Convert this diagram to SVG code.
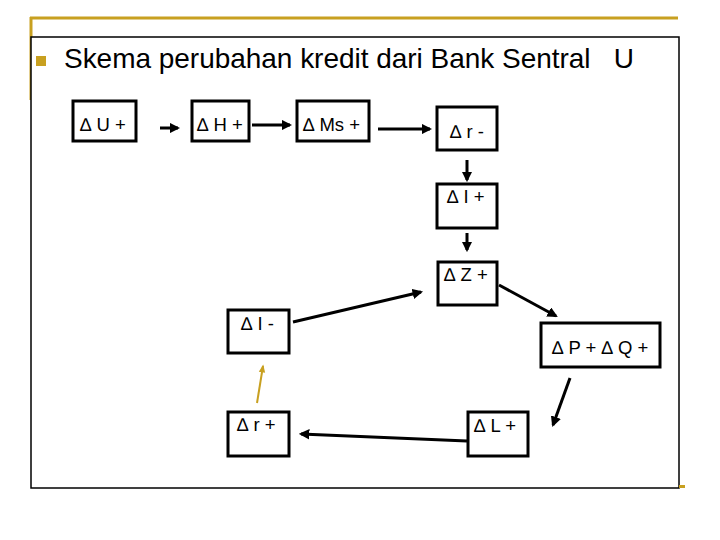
<svg xmlns="http://www.w3.org/2000/svg" width="720" height="540" viewBox="0 0 720 540">
<defs>
<style>
.box{fill:#fff;stroke:#000;stroke-width:3}
.t{font-family:"Liberation Sans",Arial,sans-serif;font-size:18.5px;fill:#000}
.c{stroke:#000;stroke-width:3;fill:none;marker-end:url(#ah)}
</style>
<marker id="ah" viewBox="0 0 10 10" refX="8" refY="5" markerWidth="3.5" markerHeight="3.5" orient="auto" markerUnits="strokeWidth">
<path d="M0,0 L10,5 L0,10 z" fill="#000"/>
</marker>
<marker id="ahg" viewBox="0 0 10 10" refX="8" refY="5" markerWidth="4" markerHeight="4" orient="auto" markerUnits="strokeWidth">
<path d="M0,1 L10,5 L0,9 z" fill="#c8a020"/>
</marker>
</defs>
<rect width="720" height="540" fill="#fff"/>
<g id="frame">
<line x1="30" y1="18" x2="678" y2="18" stroke="#c8a020" stroke-width="3"/>
<line x1="31" y1="17" x2="31" y2="100" stroke="#c8a020" stroke-width="3"/>
<rect x="31" y="37" width="648" height="451" fill="#fff" stroke="#000" stroke-width="1.5"/>
<rect x="679" y="485" width="6" height="3" fill="#c8a020"/>
<rect x="36" y="56" width="10" height="10" fill="#c8a020"/>
<text x="64" y="68" font-family="'Liberation Sans',Arial,sans-serif" font-size="28" fill="#000" xml:space="preserve" textLength="570" lengthAdjust="spacing">Skema perubahan kredit dari Bank Sentral   U</text>
</g>
<g id="connectors">
<line class="c" x1="160" y1="128" x2="178" y2="128"/>
<line class="c" x1="252" y1="125" x2="290" y2="125"/>
<line class="c" x1="378" y1="129" x2="430" y2="129"/>
<line class="c" x1="467" y1="160" x2="467" y2="180"/>
<line class="c" x1="467" y1="233" x2="467" y2="250"/>
<line class="c" x1="499" y1="285" x2="556" y2="316"/>
<line class="c" x1="293" y1="322" x2="421" y2="292"/>
<line class="c" x1="570" y1="378" x2="553" y2="425"/>
<line class="c" x1="467" y1="441" x2="301" y2="434" stroke="#333"/>
<line x1="257" y1="403" x2="263" y2="366" stroke="#c8a020" stroke-width="2" marker-end="url(#ahg)"/>
</g>
<g id="dU"><rect class="box" x="73" y="101" width="63" height="40"/><text class="t" x="80" y="131">∆ U +</text></g>
<g id="dH"><rect class="box" x="192" y="101" width="57" height="40"/><text class="t" x="197" y="131">∆ H +</text></g>
<g id="dMs"><rect class="box" x="297" y="101" width="72" height="40"/><text class="t" x="303" y="131">∆ Ms +</text></g>
<g id="dr-"><rect class="box" x="437" y="107" width="60" height="43"/><text class="t" x="450" y="138">∆ r -</text></g>
<g id="dI+"><rect class="box" x="437" y="184" width="60" height="44"/><text class="t" x="447" y="203">∆ I +</text></g>
<g id="dZ"><rect class="box" x="438" y="262" width="59" height="43"/><text class="t" x="444" y="281">∆ Z +</text></g>
<g id="dPQ"><rect class="box" x="541" y="323" width="119" height="44"/><text class="t" x="552" y="354">∆ P + ∆ Q +</text></g>
<g id="dI-"><rect class="box" x="228" y="310" width="61" height="43"/><text class="t" x="241" y="330">∆ I -</text></g>
<g id="dr+"><rect class="box" x="228" y="412" width="61" height="44"/><text class="t" x="237" y="431">∆ r +</text></g>
<g id="dL"><rect class="box" x="468" y="412" width="60" height="44"/><text class="t" x="474" y="432">∆ L +</text></g>
</svg>
